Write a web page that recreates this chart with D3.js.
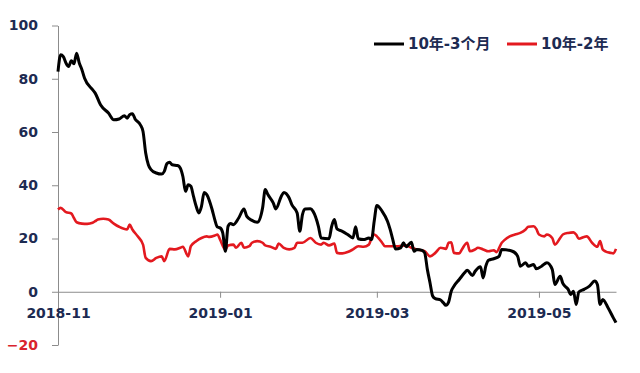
<!DOCTYPE html>
<html>
<head>
<meta charset="utf-8">
<script src="https://cdn.jsdelivr.net/npm/d3@7"></script>
<style>
  body { margin: 0; background: #fff; }
  svg { display: block; }
</style>
</head>
<body>
<div id="chart"></div>
<script>
// spread in bp
const series3m = [
  ["2018-11-01", 82.7], ["2018-11-02", 89.0], ["2018-11-03", 88.3], ["2018-11-04", 85.9],
  ["2018-11-05", 84.6], ["2018-11-06", 86.8], ["2018-11-07", 85.6], ["2018-11-08", 89.6],
  ["2018-11-09", 85.9], ["2018-11-10", 83.4], ["2018-11-11", 80.2], ["2018-11-14", 75.9],
  ["2018-11-15", 74.6], ["2018-11-17", 70.2], ["2018-11-20", 67.1], ["2018-11-22", 64.6],
  ["2018-11-24", 64.9], ["2018-11-26", 66.1], ["2018-11-27", 65.2], ["2018-11-28", 66.5],
  ["2018-11-29", 66.9], ["2018-11-30", 64.9], ["2018-12-02", 62.7], ["2018-12-03", 60.2],
  ["2018-12-04", 52.1], ["2018-12-05", 47.7], ["2018-12-06", 45.9], ["2018-12-08", 44.6],
  ["2018-12-10", 44.2], ["2018-12-11", 45.2], ["2018-12-12", 48.1], ["2018-12-13", 48.6],
  ["2018-12-14", 47.7], ["2018-12-16", 47.4], ["2018-12-17", 46.5], ["2018-12-18", 43.3],
  ["2018-12-19", 37.7], ["2018-12-20", 40.2], ["2018-12-21", 39.6], ["2018-12-22", 35.8],
  ["2018-12-23", 32.1], ["2018-12-24", 29.6], ["2018-12-25", 32.1], ["2018-12-26", 37.3],
  ["2018-12-27", 36.5], ["2018-12-29", 30.9], ["2018-12-30", 27.1], ["2018-12-31", 24.3],
  ["2019-01-01", 24.0], ["2019-01-02", 22.1], ["2019-01-03", 15.2], ["2019-01-04", 24.6],
  ["2019-01-05", 25.6], ["2019-01-06", 25.2], ["2019-01-08", 27.7], ["2019-01-10", 31.1],
  ["2019-01-11", 28.4], ["2019-01-13", 26.8], ["2019-01-15", 26.1], ["2019-01-17", 31.5],
  ["2019-01-18", 38.4], ["2019-01-19", 36.5], ["2019-01-21", 33.4], ["2019-01-22", 31.1],
  ["2019-01-24", 35.8], ["2019-01-25", 37.3], ["2019-01-27", 35.2], ["2019-01-28", 32.7],
  ["2019-01-30", 29.6], ["2019-01-31", 22.7], ["2019-02-01", 29.0], ["2019-02-02", 31.1],
  ["2019-02-04", 31.2], ["2019-02-05", 30.2], ["2019-02-07", 24.6], ["2019-02-08", 20.2],
  ["2019-02-11", 19.9], ["2019-02-12", 24.6], ["2019-02-13", 27.1], ["2019-02-14", 23.6],
  ["2019-02-16", 22.7], ["2019-02-18", 21.5], ["2019-02-20", 20.2], ["2019-02-21", 24.4],
  ["2019-02-22", 19.9], ["2019-02-24", 19.6], ["2019-02-26", 20.2], ["2019-02-27", 19.6],
  ["2019-02-28", 26.5], ["2019-03-01", 32.4], ["2019-03-03", 30.2], ["2019-03-05", 26.5],
  ["2019-03-06", 23.4], ["2019-03-07", 19.6], ["2019-03-08", 16.1], ["2019-03-10", 16.5],
  ["2019-03-11", 18.4], ["2019-03-12", 16.9], ["2019-03-14", 18.6], ["2019-03-15", 15.2],
  ["2019-03-16", 15.9], ["2019-03-18", 15.5], ["2019-03-19", 14.6], ["2019-03-20", 8.4],
  ["2019-03-21", 3.4], ["2019-03-22", -1.6], ["2019-03-23", -2.6], ["2019-03-25", -3.1],
  ["2019-03-26", -4.1], ["2019-03-27", -5.1], ["2019-03-28", -3.9], ["2019-03-29", 0.2],
  ["2019-03-30", 2.1], ["2019-04-01", 4.6], ["2019-04-03", 7.1], ["2019-04-04", 8.1],
  ["2019-04-06", 6.1], ["2019-04-07", 7.7], ["2019-04-09", 9.4], ["2019-04-10", 5.2],
  ["2019-04-11", 9.6], ["2019-04-12", 11.8], ["2019-04-14", 12.4], ["2019-04-16", 13.3],
  ["2019-04-17", 15.9], ["2019-04-21", 15.2], ["2019-04-23", 13.3], ["2019-04-24", 9.6],
  ["2019-04-26", 10.9], ["2019-04-27", 9.6], ["2019-04-29", 10.2], ["2019-04-30", 8.6],
  ["2019-05-02", 9.6], ["2019-05-04", 10.9], ["2019-05-06", 8.4], ["2019-05-07", 2.7],
  ["2019-05-09", 5.8], ["2019-05-10", 3.1], ["2019-05-12", 0.9], ["2019-05-13", -1.0],
  ["2019-05-14", 0.2], ["2019-05-15", -4.8], ["2019-05-16", -0.1], ["2019-05-18", 0.9],
  ["2019-05-20", 2.1], ["2019-05-22", 4.0], ["2019-05-23", 2.7], ["2019-05-24", -4.8],
  ["2019-05-25", -2.9], ["2019-05-27", -6.0], ["2019-05-29", -9.8], ["2019-05-30", -11.6]
];

const series2y = [
  ["2018-11-01", 30.9], ["2018-11-02", 31.5], ["2018-11-04", 29.9], ["2018-11-06", 29.4],
  ["2018-11-07", 27.7], ["2018-11-08", 26.1], ["2018-11-10", 25.6], ["2018-11-12", 25.5],
  ["2018-11-14", 25.9], ["2018-11-15", 26.5], ["2018-11-16", 27.1], ["2018-11-18", 27.4],
  ["2018-11-20", 27.1], ["2018-11-22", 25.6], ["2018-11-24", 24.4], ["2018-11-27", 23.4],
  ["2018-11-28", 25.2], ["2018-11-29", 23.4], ["2018-12-01", 20.8], ["2018-12-03", 17.7],
  ["2018-12-04", 12.7], ["2018-12-06", 11.5], ["2018-12-08", 12.7], ["2018-12-10", 13.3],
  ["2018-12-11", 11.5], ["2018-12-13", 16.1], ["2018-12-15", 15.9], ["2018-12-17", 16.5],
  ["2018-12-18", 16.9], ["2018-12-20", 13.3], ["2018-12-21", 17.1], ["2018-12-23", 19.0],
  ["2018-12-25", 20.2], ["2018-12-27", 20.8], ["2018-12-28", 20.6], ["2018-12-30", 21.1],
  ["2018-12-31", 21.5], ["2019-01-01", 19.6], ["2019-01-03", 15.8], ["2019-01-04", 17.4],
  ["2019-01-06", 17.7], ["2019-01-07", 16.5], ["2019-01-09", 18.4], ["2019-01-10", 16.5],
  ["2019-01-12", 17.1], ["2019-01-13", 18.4], ["2019-01-15", 19.0], ["2019-01-17", 18.4],
  ["2019-01-18", 17.4], ["2019-01-20", 16.9], ["2019-01-22", 16.1], ["2019-01-23", 18.1],
  ["2019-01-25", 16.5], ["2019-01-27", 15.9], ["2019-01-29", 16.5], ["2019-01-30", 18.4],
  ["2019-02-01", 18.4], ["2019-02-04", 20.2], ["2019-02-06", 18.4], ["2019-02-08", 17.7],
  ["2019-02-09", 18.4], ["2019-02-11", 17.4], ["2019-02-13", 18.1], ["2019-02-14", 14.6],
  ["2019-02-16", 14.4], ["2019-02-18", 14.9], ["2019-02-20", 15.9], ["2019-02-22", 17.1],
  ["2019-02-24", 16.9], ["2019-02-26", 17.7], ["2019-02-27", 20.2], ["2019-02-28", 21.5],
  ["2019-03-01", 20.8], ["2019-03-03", 18.4], ["2019-03-04", 17.1], ["2019-03-07", 17.1],
  ["2019-03-09", 17.1], ["2019-03-12", 17.4], ["2019-03-14", 16.5], ["2019-03-16", 15.9],
  ["2019-03-19", 15.2], ["2019-03-21", 13.3], ["2019-03-23", 14.6], ["2019-03-25", 16.5],
  ["2019-03-27", 16.1], ["2019-03-28", 18.4], ["2019-03-29", 18.6], ["2019-03-30", 14.6],
  ["2019-04-01", 14.4], ["2019-04-02", 15.9], ["2019-04-04", 18.4], ["2019-04-05", 15.2],
  ["2019-04-07", 15.9], ["2019-04-08", 16.5], ["2019-04-10", 15.9], ["2019-04-12", 15.2],
  ["2019-04-14", 15.6], ["2019-04-15", 14.9], ["2019-04-17", 18.4], ["2019-04-18", 19.4],
  ["2019-04-20", 20.8], ["2019-04-22", 21.5], ["2019-04-24", 22.1], ["2019-04-26", 23.4],
  ["2019-04-27", 24.4], ["2019-04-29", 24.6], ["2019-04-30", 23.6], ["2019-05-01", 21.5],
  ["2019-05-03", 20.8], ["2019-05-04", 21.5], ["2019-05-06", 20.2], ["2019-05-07", 17.7],
  ["2019-05-09", 20.2], ["2019-05-10", 21.5], ["2019-05-12", 22.1], ["2019-05-14", 22.3],
  ["2019-05-15", 21.5], ["2019-05-16", 19.9], ["2019-05-18", 20.6], ["2019-05-19", 20.8],
  ["2019-05-21", 18.4], ["2019-05-23", 16.9], ["2019-05-24", 19.0], ["2019-05-25", 15.9],
  ["2019-05-26", 15.2], ["2019-05-28", 14.6], ["2019-05-29", 14.4], ["2019-05-30", 16.1]
];

const xTicks = ["2018-11-01", "2019-01-01", "2019-03-01", "2019-05-01"];
const yTicks = [-20, 0, 20, 40, 60, 80, 100];
const legendNames = ["10年-3个月", "10年-2年"];

const width = 640;
const height = 373;
const navy = "#1d2b52";
const parse = d3.timeParse("%Y-%m-%d");
const fmt = d3.timeFormat("%Y-%m");

const svg = d3
  .select("#chart")
  .append("svg")
  .attr("width", width)
  .attr("height", height)
  .attr("viewBox", [0, 0, width, height]);

const x = d3
  .scaleTime()
  .domain([parse("2018-11-01"), parse("2019-05-30")])
  .range([58, 616]);
const y = d3.scaleLinear().domain([-20, 100]).range([345, 25.5]);

// y axis, ticks to the left
const yAxis = svg
  .append("g")
  .attr("transform", `translate(${x.range()[0]},0)`)
  .call(d3.axisLeft(y).tickValues(yTicks).tickSize(6).tickPadding(14).tickSizeOuter(0));
yAxis.select(".domain").attr("stroke", "#8c8c8c");
yAxis.selectAll(".tick line").attr("stroke", "#8c8c8c");
yAxis
  .selectAll(".tick text")
  .attr("font-family", "DejaVu Sans, sans-serif")
  .attr("font-weight", "bold")
  .attr("font-size", 14)
  .attr("fill", (d) => (d < 0 ? "#d9232d" : navy));

// x axis sits on zero
const xAxis = svg
  .append("g")
  .attr("transform", `translate(0,${y(0)})`)
  .call(
    d3.axisBottom(x)
      .tickValues(xTicks.map(parse))
      .tickFormat(fmt)
      .tickSize(6)
      .tickPadding(10)
      .tickSizeOuter(0)
  );
xAxis.select(".domain").attr("stroke", "#8c8c8c");
xAxis.selectAll(".tick line").attr("stroke", "#8c8c8c");
xAxis
  .selectAll(".tick text")
  .attr("font-family", "DejaVu Sans, sans-serif")
  .attr("font-weight", "bold")
  .attr("font-size", 14)
  .attr("fill", navy);

const line = d3
  .line()
  .x((d) => x(parse(d[0])))
  .y((d) => y(d[1]))
  .curve(d3.curveMonotoneX);

svg
  .append("path")
  .datum(series2y)
  .attr("fill", "none")
  .attr("stroke", "#e3191f")
  .attr("stroke-width", 2.6)
  .attr("stroke-linejoin", "round")
  .attr("d", line);

svg
  .append("path")
  .datum(series3m)
  .attr("fill", "none")
  .attr("stroke", "#000")
  .attr("stroke-width", 3)
  .attr("stroke-linejoin", "round")
  .attr("d", line);

// legend
const legend = svg.append("g").attr("transform", "translate(374,44)");
const items = [
  { name: legendNames[0], color: "#000", dx: 0 },
  { name: legendNames[1], color: "#e3191f", dx: 133 }
];
const item = legend
  .selectAll("g")
  .data(items)
  .join("g")
  .attr("transform", (d) => `translate(${d.dx},0)`);
item
  .append("line")
  .attr("x1", 0)
  .attr("x2", 30)
  .attr("stroke", (d) => d.color)
  .attr("stroke-width", 3);
item
  .append("text")
  .attr("x", 34)
  .attr("dy", "0.36em")
  .attr("font-family", "DejaVu Sans, Noto Sans CJK SC, sans-serif")
  .attr("font-weight", "bold")
  .attr("font-size", 15)
  .attr("fill", navy)
  .text((d) => d.name);
</script>
</body>
</html>
